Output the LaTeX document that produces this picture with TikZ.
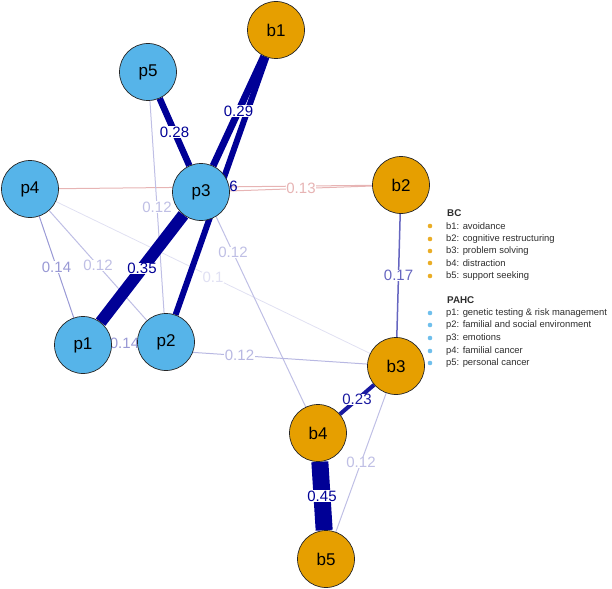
\documentclass[tikz,border=0pt]{standalone}
\usepackage{fontspec}
\setmainfont{Liberation Sans}
\usetikzlibrary{positioning,backgrounds}
\definecolor{pcol}{RGB}{86,180,233}
\definecolor{bcol}{RGB}{230,159,0}
\definecolor{poscol}{RGB}{0,0,150}
\definecolor{negcol}{RGB}{215,130,130}
\definecolor{legtext}{RGB}{45,45,45}

\begin{document}
\begin{tikzpicture}[x=1pt, y=-1pt]
  \tikzset{state/.style={circle, draw=black!85, line width=0.7pt, minimum size=57pt, inner sep=0pt, font=\fontsize{17}{17}\selectfont}}
  \tikzset{pahc/.style={state, fill=pcol}}
  \tikzset{bc/.style={state, fill=bcol}}
  \tikzset{edge_pos/.style={draw=poscol!#1, text=poscol!#1}}
  \tikzset{edge_neg/.style={draw=negcol!#1, text=negcol!#1}}
  \tikzset{edge_label/.style={fill=white, inner sep=0.6pt, font=\fontsize{15}{15}\selectfont}}
  \tikzset{legend_item/.style={anchor=west, inner sep=0pt, text=legtext, font=\fontsize{9.4}{9.4}\selectfont}}
  \tikzset{legend_head/.style={legend_item, font=\fontsize{9.8}{9.8}\selectfont\bfseries}}

  \useasboundingbox (0,0) rectangle (612,588);

  \node[bc] (b1) at (276,30) {b1};
  \node[pahc] (p5) at (148,72) {p5};
  \node[pahc] (p4) at (30,189) {p4};
  \node[pahc] (p3) at (201,192) {p3};
  \node[bc] (b2) at (401,185) {b2};
  \node[pahc] (p1) at (83,345) {p1};
  \node[pahc] (p2) at (166,342) {p2};
  \node[bc] (b3) at (396,366) {b3};
  \node[bc] (b4) at (318,433) {b4};
  \node[bc] (b5) at (326,559) {b5};

  \begin{scope}[on background layer]
    \path (p4) edge [edge_pos=12, line width=0.8pt] node [edge_label] {0.1} (b3);
    \path (p4) edge [edge_neg=60, line width=1pt] (b2);
    \path (p3) edge [edge_neg=60, line width=1pt] node [edge_label] {0.13} (b2);
    \path (p5) edge [edge_pos=25, line width=1pt] node [edge_label] {0.12} (p2);
    \path (p5) edge [edge_pos=25, line width=1pt] node [edge_label] {0.12} (b4);
    \path (p4) edge [edge_pos=25, line width=1pt] node [edge_label] {0.12} (p2);
    \path (p1) edge [edge_pos=28, line width=1pt] node [edge_label] {0.12} (b3);
    \path (b3) edge [edge_pos=25, line width=1pt] node [edge_label] {0.12} (b5);
    \path (p4) edge [edge_pos=40, line width=1pt] node [edge_label] {0.14} (p1);
    \path (p1) edge [edge_pos=40, line width=1pt] node [edge_label] {0.14} (p2);
    \path (b2) edge [edge_pos=60, line width=1.5pt] node [edge_label] {0.17} (b3);
    \path (b3) edge [edge_pos=90, line width=4pt] node [edge_label] {0.23} (b4);
    \path (b1) edge [edge_pos=100, line width=6pt] node [edge_label, xshift=2pt, fill=none] {0.26} (p2);
    \path (p5) edge [edge_pos=100, line width=6.5pt] node [edge_label] {0.28} (p3);
    \path (b1) edge [edge_pos=100, line width=7pt] node [edge_label] {0.29} (p3);
    \path (p3) edge [edge_pos=100, line width=12pt] node [edge_label] {0.35} (p1);
    \path (b4) edge [edge_pos=100, line width=17pt] node [edge_label] {0.45} (b5);
  \end{scope}

  % legend
  \node[legend_head] (bchead) at (447,213) {BC};
  \node[legend_item] (lb1) at (446,226) {b1: avoidance};
  \node[legend_item] (lb2) at (446,239) {b2: cognitive restructuring};
  \node[legend_item] (lb3) at (446,251) {b3: problem solving};
  \node[legend_item] (lb4) at (446,263) {b4: distraction};
  \node[legend_item] (lb5) at (446,276) {b5: support seeking};
  \node[legend_head] (pahchead) at (447,300) {PAHC};
  \node[legend_item] (lp1) at (446,313) {p1: genetic testing \& risk management};
  \node[legend_item] (lp2) at (446,325) {p2: familial and social environment};
  \node[legend_item] (lp3) at (446,338) {p3: emotions};
  \node[legend_item] (lp4) at (446,351) {p4: familial cancer};
  \node[legend_item] (lp5) at (446,363) {p5: personal cancer};
  \fill[bcol!85] (430,226) circle (2.3pt) (430,239) circle (2.3pt) (430,251) circle (2.3pt) (430,263) circle (2.3pt) (430,276) circle (2.3pt);
  \fill[pcol!85] (430,313) circle (2.3pt) (430,325) circle (2.3pt) (430,338) circle (2.3pt) (430,351) circle (2.3pt) (430,363) circle (2.3pt);
\end{tikzpicture}
\end{document}
